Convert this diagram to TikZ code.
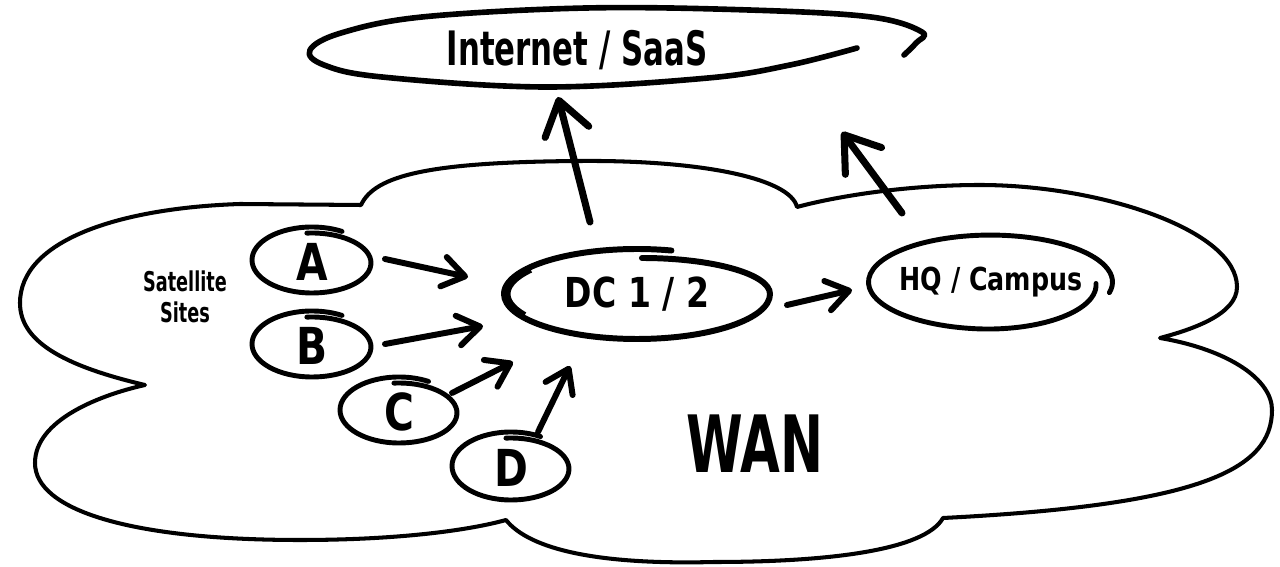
\documentclass[tikz,border=0pt]{standalone}
\usepackage{fontspec}
\usetikzlibrary{calc,arrows.meta}
\newfontfamily\handnarrow{DejaVu Sans}[FakeStretch=0.65]
\newfontfamily\handwide{DejaVu Sans}[FakeStretch=0.8]
\tikzset{
  sketch/.style={line width=2.8pt, line cap=round, line join=round},
  cloudline/.style={line width=2.3pt, line join=round},
  arr/.style={line width=3.4pt, line cap=round, -{Straight Barb[length=4.4mm, width=6mm, round]}},
  bigarr/.style={line width=4pt, line cap=round, -{Straight Barb[length=6.5mm, width=9mm, round]}},
  site/.style={font=\handwide\bfseries\fontsize{29}{31}\selectfont, inner sep=0pt},
}
\begin{document}
\begin{tikzpicture}[x=0.2mm, y=-0.2mm]
  \fill[white] (0,0) rectangle (1280,567);
  \useasboundingbox (0,0) rectangle (1280,567);
  % WAN cloud
  \draw[cloudline] (361,205) .. controls (375,175) and (430,162) .. (580,161)
    .. controls (700,160) and (790,178) .. (797,207)
    .. controls (830,198) and (900,185) .. (980,185)
    .. controls (1100,185) and (1237,230) .. (1237,287)
    .. controls (1237,315) and (1190,330) .. (1160,338)
    .. controls (1230,350) and (1272,380) .. (1272,410)
    .. controls (1272,470) and (1200,505) .. (943,518)
    .. controls (925,550) and (830,562) .. (714,562)
    .. controls (600,565) and (530,550) .. (506,520)
    .. controls (470,530) and (400,540) .. (300,540)
    .. controls (130,540) and (35,510) .. (35,463)
    .. controls (35,420) and (100,395) .. (145,385)
    .. controls (60,365) and (20,340) .. (20,303)
    .. controls (20,240) and (120,208) .. (240,204)
    -- cycle;

  \node[font=\handnarrow\bfseries\fontsize{27}{30}\selectfont] (inet) at (577,50) {Internet / SaaS};
  \node[font=\handnarrow\bfseries\fontsize{15.5}{17.6}\selectfont, align=center] (sat) at (185,297) {Satellite\\Sites};
  \node[site] (a) at (312,262) {A};
  \node[site] (b) at (312,346) {B};
  \node[site] (c) at (399,412) {C};
  \node[site] (d) at (511,468) {D};
  \node[font=\handwide\bfseries\fontsize{23.5}{26}\selectfont] (dc) at (637,294) {DC 1 / 2};
  \node[font=\handwide\bfseries\fontsize{18}{20}\selectfont] (hq) at (991,282) {HQ / Campus};
  \node[font=\handnarrow\bfseries\fontsize{45}{48}\selectfont] (wan) at (755,444) {WAN};

  % hand drawn rings
  \foreach \n/\rx/\ry in {a/59/30, b/59/30, c/58/30, d/58/31}
    \draw[sketch] ($(\n.center)+({\rx*cos(265)},{1+\ry*sin(265)})$)
      arc[start angle=265, end angle=450, x radius=\rx, y radius=\ry]
      arc[start angle=90, end angle=300, x radius=\rx+1, y radius=\ry+3];
  \draw[sketch, line width=3.4pt] ($(dc)+(5,-36)$)
    arc[start angle=270, end angle=360, x radius=128, y radius=36]
    arc[start angle=0, end angle=285, x radius=133, y radius=45];
  \draw[line width=4pt] ($(dc)+(-112.6,21.5)$)
    arc[start angle=150, end angle=215, x radius=130, y radius=43];
  \draw[sketch] ($(hq)+(105,1.5)$)
    arc[start angle=-2, end angle=100, x radius=108, y radius=44]
    arc[start angle=100, end angle=373, x radius=122, y radius=47];
  \draw[sketch, line width=3.2pt, shift={(inet)}] plot[smooth, tension=0.6] coordinates {
    (280,-2) (213,15) (131,28) (-32,37) (-195,27) (-253,15) (-267,0) (-236,-17)
    (-155,-33) (9,-42) (172,-40) (294,-33) (345,-18) (339,-7) (327,5)};

  % links
  \draw[arr] ($(a)+(73,-3)$) -- ($(dc)+(-169,-17)$);
  \draw[arr] ($(b)+(73,-2)$) -- ($(dc)+(-154,32)$);
  \draw[arr] ($(c)+(53,-19)$) -- ($(dc)+(-124,68)$);
  \draw[arr] ($(d)+(27,-36)$) -- ($(dc)+(-67,72)$);
  \draw[arr] ($(dc)+(150,11)$) -- ($(hq)+(-139,8)$);
  \draw[bigarr] ($(dc)+(-47,-72)$) -- ($(inet)+(-19,47)$);
  \draw[bigarr] ($(hq)+(-89,-69)$) -- ($(inet)+(265,82)$);
\end{tikzpicture}
\end{document}
